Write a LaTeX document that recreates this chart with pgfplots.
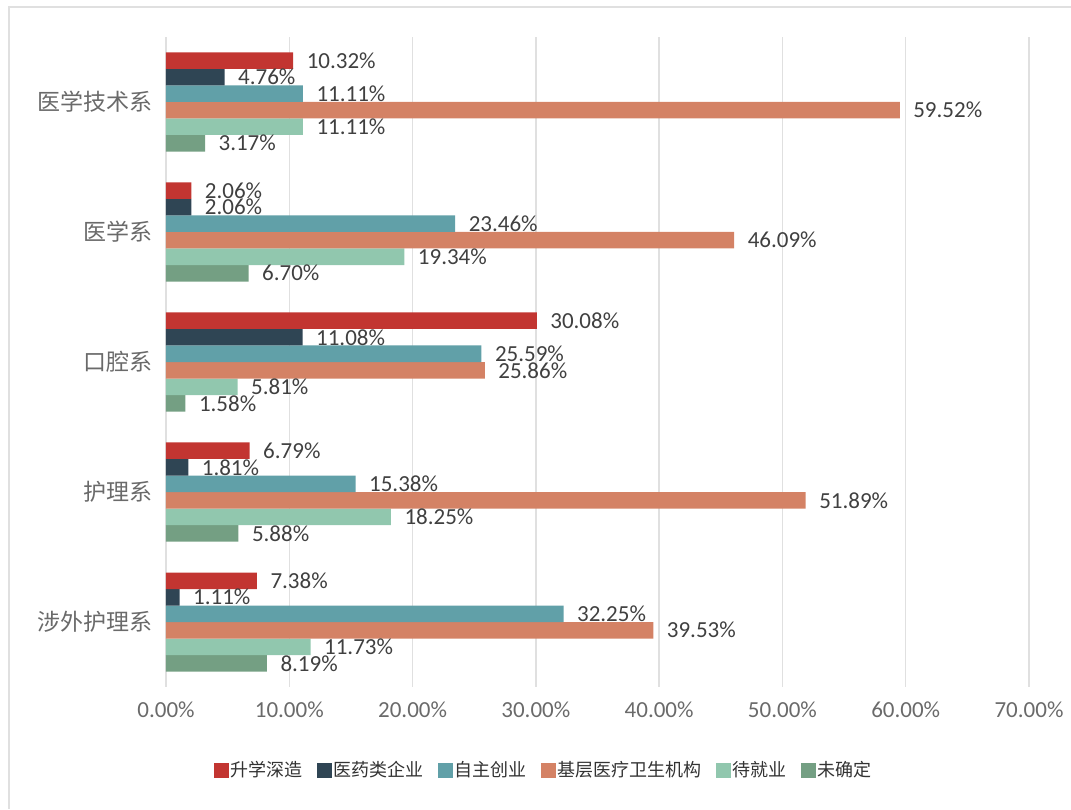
\documentclass[border=0pt]{standalone}
\usepackage{fontspec}
\setmainfont{Carlito}
\newfontfamily\cjk{Noto Sans CJK SC}
\usepackage{pgfplots}
\pgfplotsset{compat=1.18}
\definecolor{s1}{HTML}{C23531}
\definecolor{s2}{HTML}{2F4554}
\definecolor{s3}{HTML}{61A0A8}
\definecolor{s4}{HTML}{D48265}
\definecolor{s5}{HTML}{91C7AE}
\definecolor{s6}{HTML}{749F83}
\definecolor{gridc}{HTML}{E0E0E0}
\definecolor{lab}{HTML}{404040}
\definecolor{catc}{HTML}{6A6A6A}
\begin{document}
\begin{tikzpicture}
\path[use as bounding box] (0,0) rectangle (1071pt,809pt);
\draw[color=gridc, line width=1.5pt] (9pt,0pt) -- (9pt,802pt) -- (1071pt,802pt);
\begin{axis}[
  at={(166pt,122pt)}, anchor=south west,
  scale only axis, width=863pt, height=650pt,
  xmin=0, xmax=70, ymin=-0.5, ymax=4.5,
  enlargelimits=false, clip=false,
  xbar=0pt, bar width=16.5pt,
  axis line style={draw=none},
  tick style={draw=none},
  major tick length=0pt,
  xmajorgrids, grid style={color=gridc, line width=1.5pt},
  xtick={0,10,...,70},
  xticklabel={\pgfmathprintnumber[fixed,fixed zerofill,precision=2]{\tick}\%},
  /pgf/number format/assume math mode=true,
  xticklabel style={font=\fontsize{23}{23}\selectfont, text=catc, yshift=-11pt},
  ytick={0,1,2,3,4},
  yticklabels={涉外护理系,护理系,口腔系,医学系,医学技术系},
  yticklabel style={font=\cjk\fontsize{23}{23}\selectfont, text=catc, xshift=-10pt},
  nodes near coords={\pgfmathprintnumber[fixed,fixed zerofill,precision=2]{\pgfplotspointmeta}\%},
  every node near coord/.append style={font=\fontsize{23}{23}\selectfont, text=lab, xshift=10pt},
  reverse legend,
  legend columns=6,
  legend style={at={(axis description cs:0.438,-0.1277)}, anchor=center, draw=none,
    font=\cjk\fontsize{18}{18}\selectfont, text=black!80,
    /tikz/every even column/.append style={column sep=12pt}},
  legend image code/.code={\fill[#1] (0pt,-7.5pt) rectangle (15pt,7.5pt);},
]
\addplot[draw=none, fill=s6] coordinates {(3.17,4) (6.70,3) (1.58,2) (5.88,1) (8.19,0)};
\addplot[draw=none, fill=s5] coordinates {(11.11,4) (19.34,3) (5.81,2) (18.25,1) (11.73,0)};
\addplot[draw=none, fill=s4] coordinates {(59.52,4) (46.09,3) (25.86,2) (51.89,1) (39.53,0)};
\addplot[draw=none, fill=s3] coordinates {(11.11,4) (23.46,3) (25.59,2) (15.38,1) (32.25,0)};
\addplot[draw=none, fill=s2] coordinates {(4.76,4) (2.06,3) (11.08,2) (1.81,1) (1.11,0)};
\addplot[draw=none, fill=s1] coordinates {(10.32,4) (2.06,3) (30.08,2) (6.79,1) (7.38,0)};
\legend{未确定,待就业,基层医疗卫生机构,自主创业,医药类企业,升学深造}
\end{axis}
\end{tikzpicture}
\end{document}
